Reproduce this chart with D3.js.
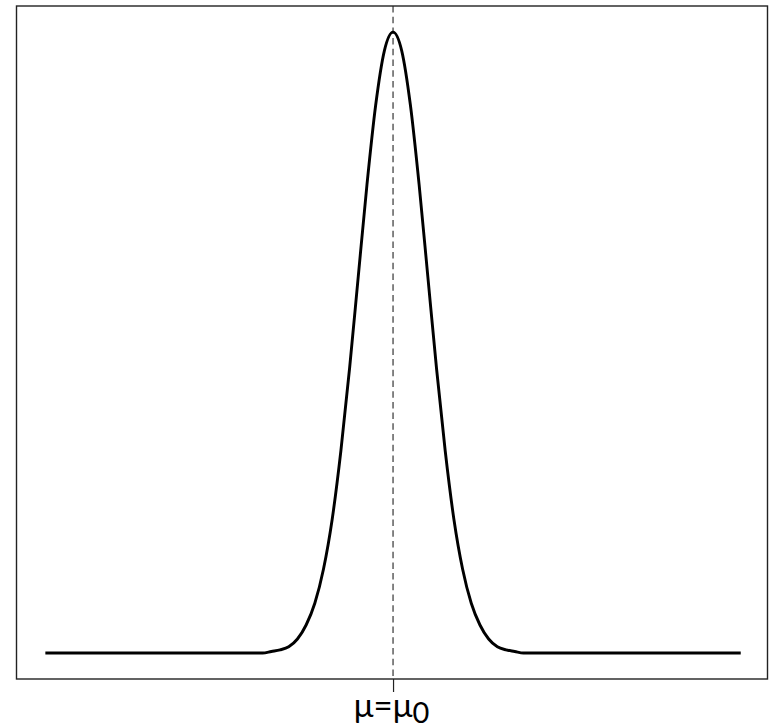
<!DOCTYPE html>
<html>
<head>
<meta charset="utf-8">
<script src="https://cdn.jsdelivr.net/npm/d3@7"></script>
<style>
  html, body { margin: 0; padding: 0; background: #fff; }
  svg { display: block; }
</style>
</head>
<body>
<svg id="chart" width="773" height="728"></svg>
<script>
// Sample points of the density curve (x in standard units, y = density)
const xValues = [
  -10, -4, -3.75, -3.5, -3.25, -3, -2.75, -2.5, -2.25, -2, -1.75, -1.5, -1.25, -1,
  -0.75, -0.5, -0.25, 0, 0.25, 0.5, 0.75, 1, 1.25, 1.5, 1.75, 2, 2.25, 2.5,
  2.75, 3, 3.25, 3.5, 3.75, 4, 10
];
const densityValues = [
  0, 0.000, 0.000, 0.001, 0.002, 0.004, 0.009, 0.018, 0.032, 0.054, 0.086, 0.130, 0.183, 0.242,
  0.301, 0.352, 0.387, 0.399, 0.387, 0.352, 0.301, 0.242, 0.183, 0.130, 0.086, 0.054, 0.032, 0.018,
  0.009, 0.004, 0.002, 0.001, 0.000, 0.000, 0
];

// Reference mean marked on the axis
const meanValue = 0;
const tickLabelMain = "μ=μ";
const tickLabelSub = "0";

const W = 773, H = 728;
const margin = { top: 6, right: 5.5, bottom: 49, left: 16.5 };

const svg = d3.select("#chart");

const x = d3.scaleLinear()
  .domain([-10.83, 10.77])
  .range([margin.left, W - margin.right]);

const y = d3.scaleLinear()
  .domain([-0.0167, 0.4158])
  .range([H - margin.bottom, margin.top]);

const points = xValues.map((v, i) => [v, densityValues[i]]);

// dashed vertical line at the mean
svg.append("line")
  .attr("x1", x(meanValue)).attr("x2", x(meanValue))
  .attr("y1", margin.top).attr("y2", H - margin.bottom)
  .attr("stroke", "#444")
  .attr("stroke-width", 1.3)
  .attr("stroke-dasharray", "6.5,4.2");

// density curve
const line = d3.line()
  .x(d => x(d[0]))
  .y(d => y(d[1]))
  .curve(d3.curveMonotoneX);

svg.append("path")
  .datum(points)
  .attr("d", line)
  .attr("fill", "none")
  .attr("stroke", "#000")
  .attr("stroke-width", 2.9)
  .attr("stroke-linejoin", "round");

// bottom axis with a single tick at the mean
const axis = d3.axisBottom(x)
  .tickValues([meanValue])
  .tickSize(13)
  .tickSizeOuter(0)
  .tickFormat(() => "");

const gAxis = svg.append("g")
  .attr("transform", `translate(0,${H - margin.bottom})`)
  .call(axis);
gAxis.select(".domain").remove();
gAxis.selectAll(".tick line").attr("stroke", "#222").attr("stroke-width", 1.2);

const label = gAxis.select(".tick text")
  .attr("y", 38)
  .attr("dy", null)
  .attr("x", -2)
  .attr("fill", "#000")
  .attr("font-family", "Lato, 'Open Sans', sans-serif")
  .attr("font-size", 33)
  .attr("text-anchor", "middle");
label.text(null);
label.append("tspan").text(tickLabelMain);
label.append("tspan").attr("dy", 6).attr("font-size", 29).text(tickLabelSub);

// plot box
svg.append("rect")
  .attr("x", margin.left)
  .attr("y", margin.top)
  .attr("width", W - margin.left - margin.right)
  .attr("height", H - margin.top - margin.bottom)
  .attr("fill", "none")
  .attr("stroke", "#222")
  .attr("stroke-width", 1.4);
</script>
</body>
</html>
